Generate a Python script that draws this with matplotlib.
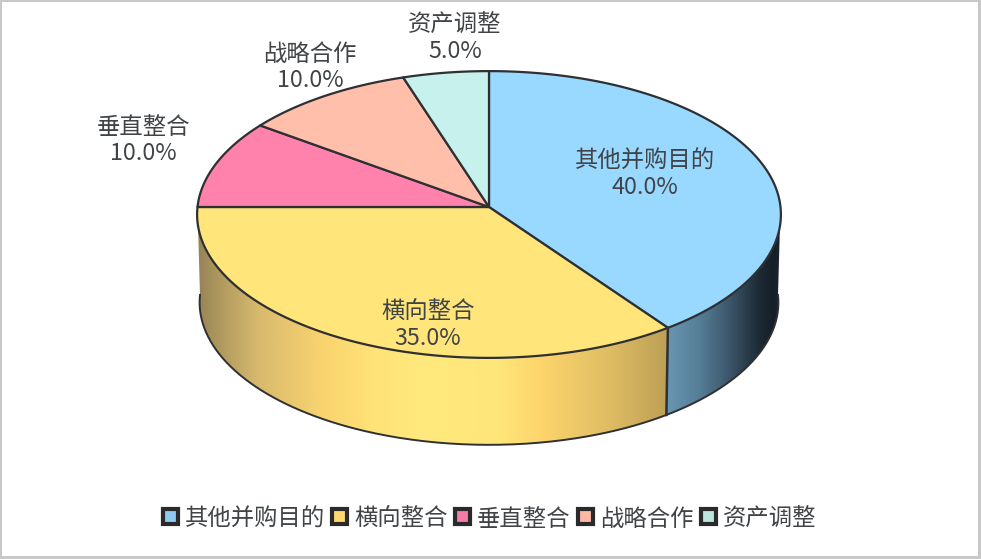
import numpy as np
import matplotlib
matplotlib.use("Agg")
import matplotlib.pyplot as plt
from matplotlib.colors import LinearSegmentedColormap
from matplotlib.patches import Polygon, Rectangle

plt.rcParams["font.family"] = ["Noto Sans CJK SC", "DejaVu Sans"]

# 并购目的占比
names = ["其他并购目的", "横向整合", "垂直整合", "战略合作", "资产调整"]
values = [40.0, 35.0, 10.0, 10.0, 5.0]
top_colors = ["#99D8FF", "#FFE57A", "#FF82AC", "#FFBFAA", "#C7F1EC"]
legend_colors = ["#8FCBF0", "#FFD970", "#F37DA8", "#FFB8A3", "#BCE5E0"]
label_pos = [(645, 174.5), (428, 325.5), (143, 140.5), (310, 67.5), (455, 38.5)]

LINE = "#2E3033"
TEXT = "#404447"

# 饼的几何参数(像素)
CX = 489
TOP = (291.5, 143.0, 207)
BOT = (289.0, 142.0, 295)
K = 0.0523


def rim(theta_deg, geo):
    # 带一点透视的椭圆,theta 从正上方顺时针
    rx, ry, cy = geo
    t = np.radians(theta_deg)
    u, v = np.sin(t), -np.cos(t)
    s = 1 / (1 - K * v)
    return np.column_stack([CX + rx * u * s, cy + ry * v * s])


def side_face(ax, a, b, stops, xs):
    # 侧面:上下两条弧围成的区域,颜色沿 x 方向渐变
    th = np.linspace(a, b, 200)
    poly = np.vstack([rim(th, TOP), rim(th[::-1], BOT)])
    patch = Polygon(poly, closed=True, fc="none", ec="none", transform=ax.transData)
    ax.add_patch(patch)
    pos = [(x - xs[0]) / (xs[-1] - xs[0]) for x in xs]
    cmap = LinearSegmentedColormap.from_list("side", list(zip(pos, stops)))
    im = ax.imshow(np.linspace(0, 1, 512)[None, :], cmap=cmap, aspect="auto",
                   extent=(xs[0], xs[-1], 460, 200), zorder=1)
    im.set_clip_path(patch)


fig = plt.figure(figsize=(9.81, 5.59), dpi=100)
ax = fig.add_axes([0, 0, 1, 1])
ax.set_xlim(0, 981)
ax.set_ylim(559, 0)
ax.axis("off")

# 外框
for box in [(0, 0, 981, 2), (0, 0, 2, 559), (978, 0, 3, 559), (0, 556, 981, 3)]:
    ax.add_patch(Rectangle(box[:2], box[2], box[3], fc="#C8C8C8", ec="none", zorder=0))

angles = np.concatenate([[0], np.cumsum(values) * 3.6])

# 侧面渐变
yellow_x = [197, 210, 257, 323, 373, 423, 500, 540, 607, 668]
yellow_c = ["#958258", "#A5915A", "#D7B96E", "#FAD46E", "#FFE278", "#FFE97D",
            "#FFE67A", "#FDD56C", "#E1BE64", "#BCA055"]
blue_x = [667, 700, 730, 760, 775, 782]
blue_c = ["#6996B2", "#557D96", "#3C5569", "#1C2A34", "#141E26", "#1E2832"]
side_face(ax, angles[1], 270, yellow_c, yellow_x)
side_face(ax, 90, angles[1], blue_c, blue_x)

# 侧面轮廓:只有底边弧线和分界线
ax.plot(*rim(np.linspace(90, 270, 300), BOT).T, color=LINE, lw=1.4, zorder=2)
ax.plot(*np.vstack([rim(angles[1], TOP), rim(angles[1], BOT)]).T, color=LINE, lw=1.8, zorder=2)

# 顶面扇区
for i in range(len(values)):
    th = np.linspace(angles[i], angles[i + 1], 200)
    pts = np.vstack([[CX, TOP[2]], rim(th, TOP)])
    ax.add_patch(Polygon(pts, closed=True, fc=top_colors[i], ec=LINE, lw=1.6,
                         joinstyle="round", zorder=3))

# 数据标签
for name, val, (x, y) in zip(names, values, label_pos):
    ax.text(x, y, f"{name}\n{val:.1f}%", ha="center", va="center", fontsize=16.8,
            color=TEXT, linespacing=1.2, zorder=4)

# 图例
x = 161
for name, c in zip(names, legend_colors):
    ax.add_patch(Rectangle((x + 2, 509), 15, 15, fc=c, ec="#2A2A2A", lw=3, zorder=4))
    ax.text(x + 24, 519, name, ha="left", va="center", fontsize=16.8, color=TEXT, zorder=4)
    x += 24 + 23 * len(name) + 7

fig.savefig("out.png", dpi=100)
